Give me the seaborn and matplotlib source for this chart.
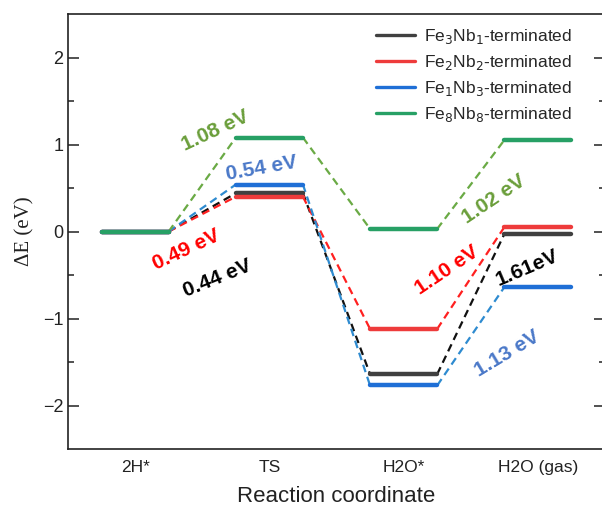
import matplotlib
matplotlib.use("Agg")
import matplotlib.pyplot as plt
import seaborn as sns
import pandas as pd
from matplotlib.lines import Line2D

# ---- data ----
steps = ["2H*", "TS", "H2O*", "H2O (gas)"]
series_names = ["Fe$_3$Nb$_1$-terminated", "Fe$_2$Nb$_2$-terminated",
                "Fe$_1$Nb$_3$-terminated", "Fe$_8$Nb$_8$-terminated"]
fe3nb1 = [0.0, 0.44, -1.64, -0.03]
fe2nb2 = [0.0, 0.40, -1.12, 0.05]
fe1nb3 = [0.0, 0.54, -1.77, -0.64]
fe8nb8 = [0.0, 1.08, 0.03, 1.05]
barrier_labels_1 = ["0.44 eV", "0.49 eV", "0.54 eV", "1.08 eV"]
barrier_labels_2 = ["1.61eV", "1.10 eV", "1.13 eV", "1.02 eV"]

level_colors = ["#404040", "#ee3b3b", "#1f6fd6", "#27a065"]
dash_colors = ["#111111", "#ff2020", "#2e8bd0", "#6aaa45"]
text_colors = ["#000000", "#ff0000", "#4a78c8", "#6a9e3a"]

all_series = [fe3nb1, fe2nb2, fe1nb3, fe8nb8]

# label positions/rotations (layout)
pos1 = [(0.61, -0.54, 22), (0.38, -0.21, 25), (0.94, 0.73, 10), (0.60, 1.16, 25)]
pos2 = [(2.92, -0.42, 23), (2.32, -0.44, 34), (2.77, -1.40, 31), (2.67, 0.37, 34)]

sns.set_style("ticks")
plt.rcParams['font.family'] = ['Liberation Sans', 'DejaVu Sans']

fig = plt.figure(figsize=(6.02, 5.08), dpi=100)
ax = fig.add_axes([68/602, 1-449/508, (605-68)/602, (449-14)/508])

hw = 0.25
handles = []
for name, vals, lc, dc in zip(series_names, all_series, level_colors, dash_colors):
    # connectors
    for i in range(len(vals) - 1):
        df = pd.DataFrame({"x": [i + hw, i + 1 - hw], "y": [vals[i], vals[i + 1]]})
        sns.lineplot(data=df, x="x", y="y", ax=ax, color=dc, lw=1.6,
                     linestyle=(0, (3.5, 2.2)), estimator=None, sort=False)
for name, vals, lc, dc in zip(series_names, all_series, level_colors, dash_colors):
    for i, v in enumerate(vals):
        df = pd.DataFrame({"x": [i - hw, i + hw], "y": [v, v]})
        sns.lineplot(data=df, x="x", y="y", ax=ax, color=lc, lw=3.2,
                     estimator=None, sort=False, solid_capstyle="round")
    handles.append(Line2D([0], [0], color=lc, lw=2.4))

for lab, c, (x, y, r) in zip(barrier_labels_1, text_colors, pos1):
    ax.text(x, y, lab, color=c, fontsize=15, fontweight="bold", rotation=r,
            ha="center", va="center", rotation_mode="anchor")
for lab, c, (x, y, r) in zip(barrier_labels_2, text_colors, pos2):
    ax.text(x, y, lab, color=c, fontsize=15, fontweight="bold", rotation=r,
            ha="center", va="center", rotation_mode="anchor")

ax.set_xlim(-0.5, 3.5)
ax.set_ylim(-2.5, 2.5)
ax.set_xticks(range(len(steps)))
ax.set_xticklabels(steps, fontsize=12.5)
ax.set_yticks([-2, -1, 0, 1, 2])
ax.set_yticklabels(["\u22122", "\u22121", "0", "1", "2"], fontsize=13)
ax.set_yticks([-1.5, -0.5, 0.5, 1.5], minor=True)
ax.tick_params(axis="y", which="major", direction="in", length=8, width=1.1,
               right=True, left=True, colors="#222222", labelcolor="#222222")
ax.tick_params(axis="y", which="minor", direction="in", length=4.5, width=1.1,
               right=True, left=True, colors="#222222")
ax.tick_params(axis="x", length=0, pad=8, labelcolor="#222222")
for s in ax.spines.values():
    s.set_visible(True)
    s.set_linewidth(1.2)
    s.set_color("#222222")

ax.set_xlabel("Reaction coordinate", fontsize=16, color="#222222", labelpad=8)
ax.set_ylabel("\u0394E (eV)", fontsize=15, family=["Liberation Serif", "DejaVu Serif"],
              color="#222222", labelpad=6)

ax.legend(handles, series_names, loc="upper right", bbox_to_anchor=(0.968, 1.005),
          frameon=False, fontsize=12.5, handlelength=2.3, labelspacing=0.4,
          handletextpad=0.5)

fig.savefig("out.png", dpi=100)
